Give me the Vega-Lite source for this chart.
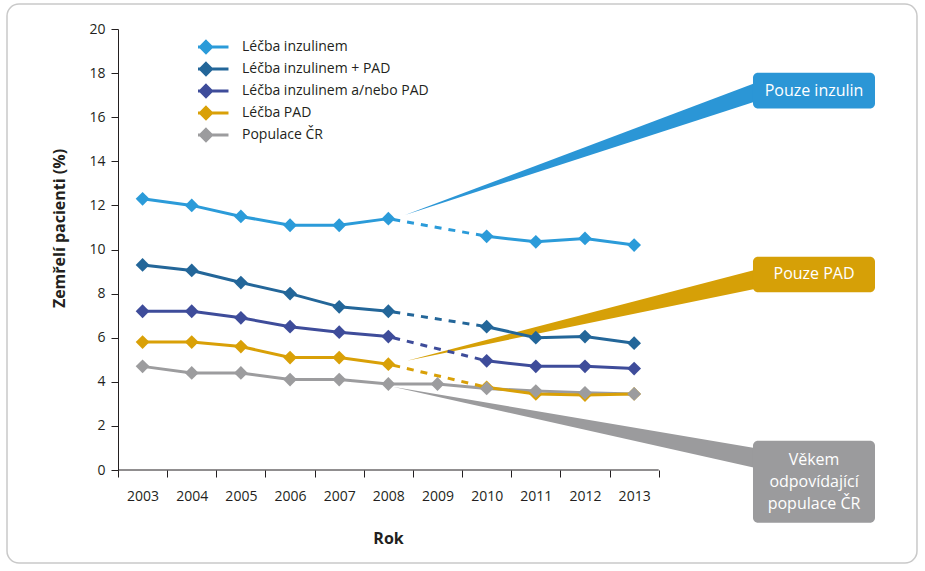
{
  "$schema": "https://vega.github.io/schema/vega-lite/v6.json",
  "width": 757,
  "height": 441,
  "padding": {"left": 6, "top": 3, "right": 6, "bottom": 6},
  "background": "white",
  "config": {
    "font": "Open Sans",
    "view": {"stroke": null},
    "axis": {"labelColor": "#231f20", "titleColor": "#231f20", "tickColor": "#231f20", "domainColor": "#231f20"},
    "legend": {"labelColor": "#231f20"}
  },
  "datasets": {
    "pts": [
      {"series": "Léčba inzulinem", "year": 2003, "value": 12.3},
      {"series": "Léčba inzulinem", "year": 2004, "value": 12.0},
      {"series": "Léčba inzulinem", "year": 2005, "value": 11.5},
      {"series": "Léčba inzulinem", "year": 2006, "value": 11.1},
      {"series": "Léčba inzulinem", "year": 2007, "value": 11.1},
      {"series": "Léčba inzulinem", "year": 2008, "value": 11.4},
      {"series": "Léčba inzulinem", "year": 2010, "value": 10.6},
      {"series": "Léčba inzulinem", "year": 2011, "value": 10.35},
      {"series": "Léčba inzulinem", "year": 2012, "value": 10.5},
      {"series": "Léčba inzulinem", "year": 2013, "value": 10.2},
      {"series": "Léčba inzulinem + PAD", "year": 2003, "value": 9.3},
      {"series": "Léčba inzulinem + PAD", "year": 2004, "value": 9.05},
      {"series": "Léčba inzulinem + PAD", "year": 2005, "value": 8.5},
      {"series": "Léčba inzulinem + PAD", "year": 2006, "value": 8.0},
      {"series": "Léčba inzulinem + PAD", "year": 2007, "value": 7.4},
      {"series": "Léčba inzulinem + PAD", "year": 2008, "value": 7.2},
      {"series": "Léčba inzulinem + PAD", "year": 2010, "value": 6.5},
      {"series": "Léčba inzulinem + PAD", "year": 2011, "value": 6.0},
      {"series": "Léčba inzulinem + PAD", "year": 2012, "value": 6.05},
      {"series": "Léčba inzulinem + PAD", "year": 2013, "value": 5.75},
      {"series": "Léčba inzulinem a/nebo PAD", "year": 2003, "value": 7.2},
      {"series": "Léčba inzulinem a/nebo PAD", "year": 2004, "value": 7.2},
      {"series": "Léčba inzulinem a/nebo PAD", "year": 2005, "value": 6.9},
      {"series": "Léčba inzulinem a/nebo PAD", "year": 2006, "value": 6.5},
      {"series": "Léčba inzulinem a/nebo PAD", "year": 2007, "value": 6.25},
      {"series": "Léčba inzulinem a/nebo PAD", "year": 2008, "value": 6.05},
      {"series": "Léčba inzulinem a/nebo PAD", "year": 2010, "value": 4.95},
      {"series": "Léčba inzulinem a/nebo PAD", "year": 2011, "value": 4.7},
      {"series": "Léčba inzulinem a/nebo PAD", "year": 2012, "value": 4.7},
      {"series": "Léčba inzulinem a/nebo PAD", "year": 2013, "value": 4.6},
      {"series": "Léčba PAD", "year": 2003, "value": 5.8},
      {"series": "Léčba PAD", "year": 2004, "value": 5.8},
      {"series": "Léčba PAD", "year": 2005, "value": 5.6},
      {"series": "Léčba PAD", "year": 2006, "value": 5.1},
      {"series": "Léčba PAD", "year": 2007, "value": 5.1},
      {"series": "Léčba PAD", "year": 2008, "value": 4.8},
      {"series": "Léčba PAD", "year": 2010, "value": 3.75},
      {"series": "Léčba PAD", "year": 2011, "value": 3.45},
      {"series": "Léčba PAD", "year": 2012, "value": 3.4},
      {"series": "Léčba PAD", "year": 2013, "value": 3.45},
      {"series": "Populace ČR", "year": 2003, "value": 4.7},
      {"series": "Populace ČR", "year": 2004, "value": 4.4},
      {"series": "Populace ČR", "year": 2005, "value": 4.4},
      {"series": "Populace ČR", "year": 2006, "value": 4.1},
      {"series": "Populace ČR", "year": 2007, "value": 4.1},
      {"series": "Populace ČR", "year": 2008, "value": 3.9},
      {"series": "Populace ČR", "year": 2009, "value": 3.9},
      {"series": "Populace ČR", "year": 2010, "value": 3.7},
      {"series": "Populace ČR", "year": 2011, "value": 3.58},
      {"series": "Populace ČR", "year": 2012, "value": 3.5},
      {"series": "Populace ČR", "year": 2013, "value": 3.45}
    ],
    "frame": [{"x": 2000.242, "x2": 2018.754, "y": 21.134, "y2": -4.218}],
    "xaxisline": [{"x": 2002.5, "x2": 2013.5, "y": 0}],
    "wedges": [
      {"k": "inz", "x": 2008.339, "lo": 11.56, "hi": 11.56},
      {"k": "inz", "x": 2015.45, "lo": 16.70, "hi": 17.54},
      {"k": "pad", "x": 2008.38, "lo": 4.96, "hi": 4.96},
      {"k": "pad", "x": 2015.45, "lo": 8.21, "hi": 9.07},
      {"k": "pop", "x": 2008.09, "lo": 3.78, "hi": 3.78},
      {"k": "pop", "x": 2015.45, "lo": 0.10, "hi": 1.00}
    ],
    "boxes": [
      {"k": "inz", "x": 2015.418, "x2": 2017.9, "y": 18.02, "y2": 16.40, "tx": 2016.66, "ty": 17.21, "label": "Pouze inzulin"},
      {"k": "pad", "x": 2015.418, "x2": 2017.9, "y": 9.67, "y2": 8.06, "tx": 2016.66, "ty": 8.87, "label": "Pouze PAD"},
      {"k": "pop", "x": 2015.418, "x2": 2017.9, "y": 1.33, "y2": -2.39, "tx": 2016.66, "ty": 0.47, "label": "Věkem\nodpovídající\npopulace ČR"}
    ]
  },
  "layer": [
    {
      "data": {"name": "frame"},
      "mark": {"type": "rect", "fill": null, "fillOpacity": 0, "stroke": "#c9c9c9", "strokeWidth": 1.5, "cornerRadius": 12},
      "encoding": {
        "x": {"field": "x", "type": "quantitative", "title": "Rok", "scale": {"domain": [2002.5, 2017.9], "nice": false, "zero": false}},
        "x2": {"field": "x2"},
        "y": {"field": "y", "type": "quantitative", "title": "Zemřelí pacienti (%)", "scale": {"domain": [0, 20], "nice": false}},
        "y2": {"field": "y2"}
      }
    },
    {
      "data": {"name": "wedges"},
      "mark": {"type": "area", "interpolate": "linear", "opacity": 1},
      "encoding": {
        "x": {"field": "x", "type": "quantitative", "title": "Rok", "scale": {"domain": [2002.5, 2017.9], "nice": false, "zero": false}},
        "y": {"field": "lo", "type": "quantitative", "title": "Zemřelí pacienti (%)", "scale": {"domain": [0, 20], "nice": false}},
        "y2": {"field": "hi"},
        "fill": {"field": "k", "type": "nominal", "scale": {"domain": ["inz", "pad", "pop"], "range": ["#2b96d6", "#d6a007", "#9b9b9d"]}, "legend": null},
        "detail": {"field": "k"}
      }
    },
    {
      "data": {"name": "boxes"},
      "mark": {"type": "rect", "cornerRadius": 5},
      "encoding": {
        "x": {"field": "x", "type": "quantitative", "title": "Rok", "scale": {"domain": [2002.5, 2017.9], "nice": false, "zero": false}},
        "x2": {"field": "x2"},
        "y": {"field": "y", "type": "quantitative", "title": "Zemřelí pacienti (%)", "scale": {"domain": [0, 20], "nice": false}},
        "y2": {"field": "y2"},
        "fill": {"field": "k", "type": "nominal", "scale": {"domain": ["inz", "pad", "pop"], "range": ["#2b96d6", "#d6a007", "#9b9b9d"]}, "legend": null}
      }
    },
    {
      "data": {"name": "xaxisline"},
      "mark": {"type": "rule", "color": "#231f20", "strokeWidth": 1},
      "encoding": {
        "x": {"field": "x", "type": "quantitative", "title": "Rok", "scale": {"domain": [2002.5, 2017.9], "nice": false, "zero": false}},
        "x2": {"field": "x2"},
        "y": {"field": "y", "type": "quantitative", "title": "Zemřelí pacienti (%)", "scale": {"domain": [0, 20], "nice": false}}
      }
    },
    {
      "data": {"name": "pts"},
      "transform": [{"filter": "datum.year <= 2008 || datum.series == 'Populace ČR'"}],
      "mark": {"type": "line", "strokeWidth": 3},
      "encoding": {
        "x": {"field": "year", "type": "quantitative", "title": "Rok", "scale": {"domain": [2002.5, 2017.9], "nice": false, "zero": false}},
        "y": {"field": "value", "type": "quantitative", "title": "Zemřelí pacienti (%)", "scale": {"domain": [0, 20], "nice": false}},
        "color": {"field": "series", "type": "nominal", "title": null, "scale": {"domain": ["Léčba inzulinem", "Léčba inzulinem + PAD", "Léčba inzulinem a/nebo PAD", "Léčba PAD", "Populace ČR"], "range": ["#2b9bd9", "#236699", "#3e4c9a", "#d9a007", "#9c9c9e"]}}
      }
    },
    {
      "data": {"name": "pts"},
      "transform": [{"filter": "datum.year >= 2010 && datum.series != 'Populace ČR'"}],
      "mark": {"type": "line", "strokeWidth": 3},
      "encoding": {
        "x": {"field": "year", "type": "quantitative", "title": "Rok", "scale": {"domain": [2002.5, 2017.9], "nice": false, "zero": false}},
        "y": {"field": "value", "type": "quantitative", "title": "Zemřelí pacienti (%)", "scale": {"domain": [0, 20], "nice": false}},
        "color": {"field": "series", "type": "nominal", "title": null, "scale": {"domain": ["Léčba inzulinem", "Léčba inzulinem + PAD", "Léčba inzulinem a/nebo PAD", "Léčba PAD", "Populace ČR"], "range": ["#2b9bd9", "#236699", "#3e4c9a", "#d9a007", "#9c9c9e"]}}
      }
    },
    {
      "data": {"name": "pts"},
      "transform": [{"filter": "(datum.year == 2008 || datum.year == 2010) && datum.series != 'Populace ČR'"}],
      "mark": {"type": "line", "strokeWidth": 3, "strokeDash": [7, 7], "strokeDashOffset": -5},
      "encoding": {
        "x": {"field": "year", "type": "quantitative", "title": "Rok", "scale": {"domain": [2002.5, 2017.9], "nice": false, "zero": false}},
        "y": {"field": "value", "type": "quantitative", "title": "Zemřelí pacienti (%)", "scale": {"domain": [0, 20], "nice": false}},
        "color": {"field": "series", "type": "nominal", "title": null, "scale": {"domain": ["Léčba inzulinem", "Léčba inzulinem + PAD", "Léčba inzulinem a/nebo PAD", "Léčba PAD", "Populace ČR"], "range": ["#2b9bd9", "#236699", "#3e4c9a", "#d9a007", "#9c9c9e"]}}
      }
    },
    {
      "data": {"name": "pts"},
      "mark": {"type": "point", "shape": "diamond", "filled": true, "size": 190, "opacity": 1},
      "encoding": {
        "x": {"field": "year", "type": "quantitative", "title": "Rok", "scale": {"domain": [2002.5, 2017.9], "nice": false, "zero": false},
          "axis": {"values": [2003, 2004, 2005, 2006, 2007, 2008, 2009, 2010, 2011, 2012, 2013, 2014], "format": "d",
            "labelExpr": "datum.value > 2013 ? '' : datum.label", "tickOffset": -24.578, "labelOffset": 24.578,
            "domain": false, "grid": false, "tickSize": 7, "tickWidth": 1, "labelFontSize": 14, "labelPadding": 12,
            "labelFlush": false, "labelOverlap": false, "titleFontSize": 16, "titleFontWeight": "bold",
            "titleX": 270, "titleY": 68, "titleBaseline": "middle", "titleAlign": "center"}},
        "y": {"field": "value", "type": "quantitative", "title": "Zemřelí pacienti (%)", "scale": {"domain": [0, 20], "nice": false},
          "axis": {"values": [0, 2, 4, 6, 8, 10, 12, 14, 16, 18, 20], "grid": false, "tickSize": 7, "labelFontSize": 14,
            "labelPadding": 6, "titleFontSize": 16, "titleFontWeight": "bold",
            "titleX": -59, "titleY": 199, "titleAngle": 270, "titleAlign": "center", "titleBaseline": "middle"}},
        "color": {"field": "series", "type": "nominal", "title": null, "scale": {"domain": ["Léčba inzulinem", "Léčba inzulinem + PAD", "Léčba inzulinem a/nebo PAD", "Léčba PAD", "Populace ČR"], "range": ["#2b9bd9", "#236699", "#3e4c9a", "#d9a007", "#9c9c9e"]},
          "legend": {"orient": "none", "legendX": 80, "legendY": 7, "title": null,
            "symbolType": "M-3.46,0L3.46,0M0,-0.85L0.85,0L0,0.85L-0.85,0Z", "symbolSize": 169, "symbolStrokeWidth": 3,
            "labelFontSize": 14, "labelOffset": 28, "labelLimit": 400, "rowPadding": 0, "clipHeight": 22,
            "encode": {"symbols": {"update": {"fill": {"scale": "color", "field": "value"}, "stroke": {"scale": "color", "field": "value"}, "strokeWidth": {"value": 3}, "opacity": {"value": 1}}}}}}
      }
    },
    {
      "data": {"name": "boxes"},
      "mark": {"type": "text", "color": "white", "fontSize": 16, "align": "center", "baseline": "middle", "lineBreak": "\n", "lineHeight": 22},
      "encoding": {
        "x": {"field": "tx", "type": "quantitative", "title": "Rok", "scale": {"domain": [2002.5, 2017.9], "nice": false, "zero": false}},
        "y": {"field": "ty", "type": "quantitative", "title": "Zemřelí pacienti (%)", "scale": {"domain": [0, 20], "nice": false}},
        "text": {"field": "label"}
      }
    }
  ]
}
